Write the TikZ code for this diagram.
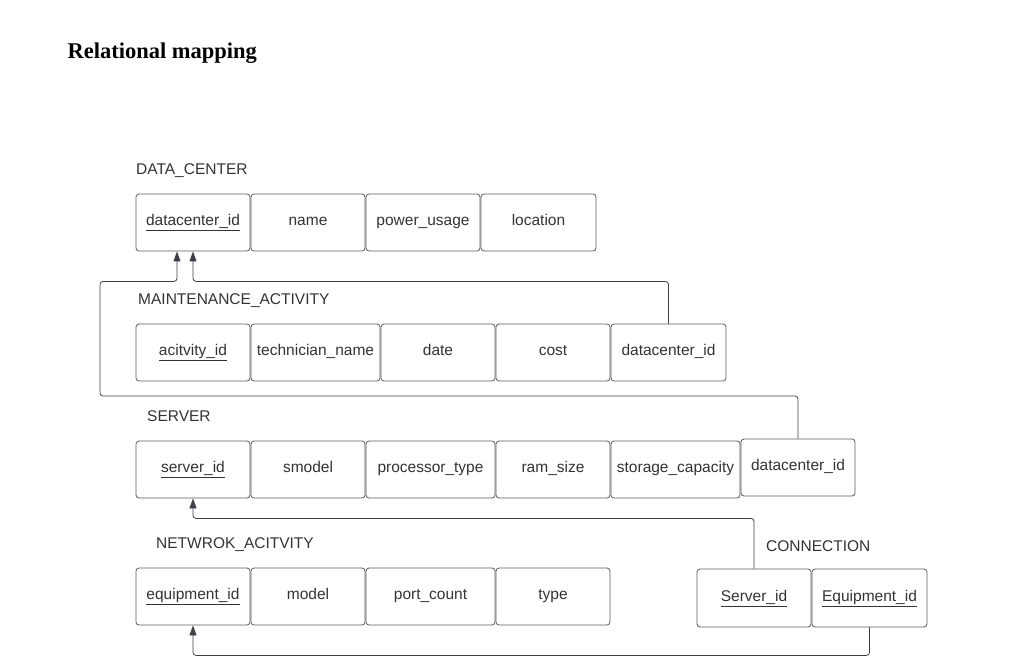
\documentclass[tikz,border=0pt]{standalone}
\usepackage{fontspec}
\setmainfont{Liberation Serif}
\setsansfont{Liberation Sans}
\usepackage{xcolor}
\usetikzlibrary{arrows.meta}
\definecolor{bordgris}{HTML}{5A5A5A}
\definecolor{textegris}{HTML}{333333}
\definecolor{lienfonce}{HTML}{3C4048}

\begin{document}
\begin{tikzpicture}[x=1pt, y=-1pt,
    attr/.style={draw=bordgris, rounded corners=3pt, line width=0.8pt,
        minimum height=57pt, inner sep=0pt, text=textegris,
        text height=11.5pt, text depth=5pt,
        font=\sffamily\fontsize{15.5}{18}\selectfont},
    titre/.style={anchor=west, inner sep=0pt, text=textegris,
        font=\sffamily\fontsize{15.5}{18}\selectfont},
    fk/.style={draw=lienfonce, line width=0.8pt, rounded corners=3pt,
        -{Triangle[length=10pt,width=7pt]}}]
    \useasboundingbox (0,0) rectangle (1011,664);

    % Titre
    \node[anchor=base west, font=\bfseries\fontsize{22.5}{26}\selectfont] (entete) at (64,58) {Relational mapping};

    % Table DATA_CENTER
    \node[titre] (tdc) at (136,171) {DATA\_CENTER};
    \node[attr, minimum width=114] (dcid) at (193,222.5) {\underline{datacenter\_id}};
    \node[attr, minimum width=114] (dcname) at (308,222.5) {name};
    \node[attr, minimum width=114] (dcpower) at (423,222.5) {power\_usage};
    \node[attr, minimum width=115] (dcloc) at (538.5,222.5) {location};

    % Table MAINTENANCE_ACTIVITY
    \node[titre] (tma) at (138,301) {MAINTENANCE\_ACTIVITY};
    \node[attr, minimum width=114] (maid) at (193,352.5) {\underline{acitvity\_id}};
    \node[attr, minimum width=129] (matech) at (315.5,352.5) {technician\_name};
    \node[attr, minimum width=114] (madate) at (438,352.5) {date};
    \node[attr, minimum width=114] (macost) at (553,352.5) {cost};
    \node[attr, minimum width=115] (madc) at (668.5,352.5) {datacenter\_id};

    % Table SERVER
    \node[titre] (tsrv) at (147,416) {SERVER};
    \node[attr, minimum width=114] (srvid) at (193,469.5) {\underline{server\_id}};
    \node[attr, minimum width=114] (srvmodel) at (308,469.5) {smodel};
    \node[attr, minimum width=129] (srvproc) at (430.5,469.5) {processor\_type};
    \node[attr, minimum width=114] (srvram) at (553,469.5) {ram\_size};
    \node[attr, minimum width=129] (srvstor) at (675.5,469.5) {storage\_capacity};
    \node[attr, minimum width=114] (srvdc) at (798,467.5) {datacenter\_id};

    % Table NETWROK_ACITVITY
    \node[titre] (tna) at (156,545) {NETWROK\_ACITVITY};
    \node[attr, minimum width=114] (naid) at (193,596.5) {\underline{equipment\_id}};
    \node[attr, minimum width=114] (namodel) at (308,596.5) {model};
    \node[attr, minimum width=129] (naport) at (430.5,596.5) {port\_count};
    \node[attr, minimum width=114] (natype) at (553,596.5) {type};

    % Table CONNECTION
    \node[titre] (tcn) at (766,546) {CONNECTION};
    \node[attr, minimum width=114, minimum height=58] (cnsrv) at (754,598) {\underline{Server\_id}};
    \node[attr, minimum width=115, minimum height=58] (cneq) at (869.5,598) {\underline{Equipment\_id}};

    % Cles etrangeres
    \coordinate (coinA) at (100,396);
    \draw[fk] (srvdc.north) |- (coinA) |- ([xshift=-16pt,yshift=-30pt]dcid.south) -- ([xshift=-16pt]dcid.south);
    \draw[fk] (madc.north) |- ([yshift=-30pt]dcid.south) -- (dcid.south);
    \draw[fk] (cnsrv.north) |- ([yshift=-20pt]srvid.south) -- (srvid.south);
    \draw[fk] (cneq.south) |- ([yshift=-30pt]naid.south) -- (naid.south);

\end{tikzpicture}
\end{document}
